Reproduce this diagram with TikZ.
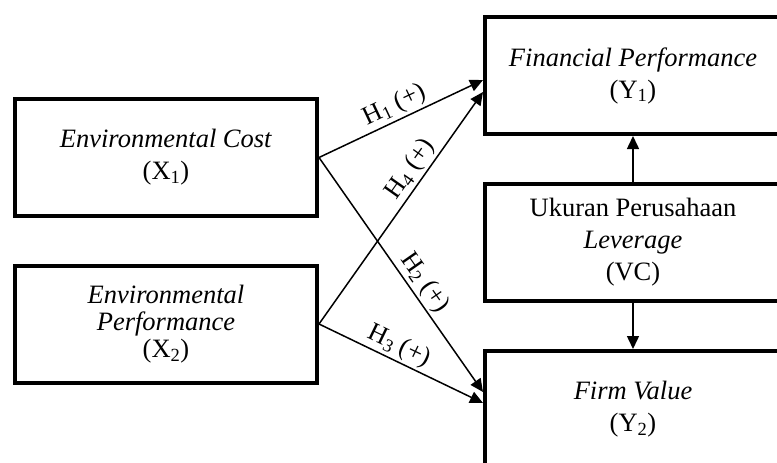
\documentclass[tikz,border=0pt]{standalone}
\usepackage{fontspec}
\setmainfont{Liberation Serif}
\usetikzlibrary{positioning,arrows.meta,calc}

\begin{document}
\begin{tikzpicture}[x=1pt, y=-1pt,
    varbox/.style={draw, rectangle, line width=4pt, minimum height=117pt,
        inner sep=0pt, align=center, font=\fontsize{26.5}{32}\selectfont},
    hyp/.style={line width=1.5pt, -{Triangle[length=13pt,width=12pt]}},
    hlabel/.style={sloped, above, inner sep=2pt, font=\fontsize{26}{28}\selectfont}]

% Frame of the figure
\useasboundingbox (0,0) rectangle (777,463);
\clip (0,0) rectangle (777,463);

% Independent variables
\node[varbox, minimum width=302pt] (X1) at (166,157.5)
    {\textit{Environmental Cost}\\(X\textsubscript{1})};
\node[varbox, minimum width=302pt, font=\fontsize{26.5}{27}\selectfont] (X2) at (166,324)
    {\textit{Environmental}\\\textit{Performance}\\(X\textsubscript{2})};

% Dependent and control variables
\node[varbox, minimum width=296pt] (Y1) at (633,75.5)
    {\textit{Financial Performance}\\(Y\textsubscript{1})};
\node[varbox, minimum width=296pt] (VC) at (633,242.5)
    {Ukuran Perusahaan\\\textit{Leverage}\\(VC)};
\node[varbox, minimum width=296pt] (Y2) at (633,409.5)
    {\textit{Firm Value}\\(Y\textsubscript{2})};

% Hypotheses
\draw[hyp] (X1.east) -- node[hlabel, pos=0.5] {H\textsubscript{1} (+)} ([yshift=-4.5pt]Y1.west);
\draw[hyp] (X1.east) -- node[hlabel, pos=0.57] {H\textsubscript{2} (+)} ([yshift=17.5pt]Y2.west);
\draw[hyp] (X2.east) -- node[hlabel, pos=0.45] {H\textsubscript{3} (+)} ([yshift=6.5pt]Y2.west);
\draw[hyp] (X2.east) -- node[hlabel, pos=0.63] {H\textsubscript{4} (+)} ([yshift=-16.5pt]Y1.west);

% Control arrows
\draw[hyp] (VC) -- (Y1);
\draw[hyp] (VC) -- (Y2);
\end{tikzpicture}
\end{document}
